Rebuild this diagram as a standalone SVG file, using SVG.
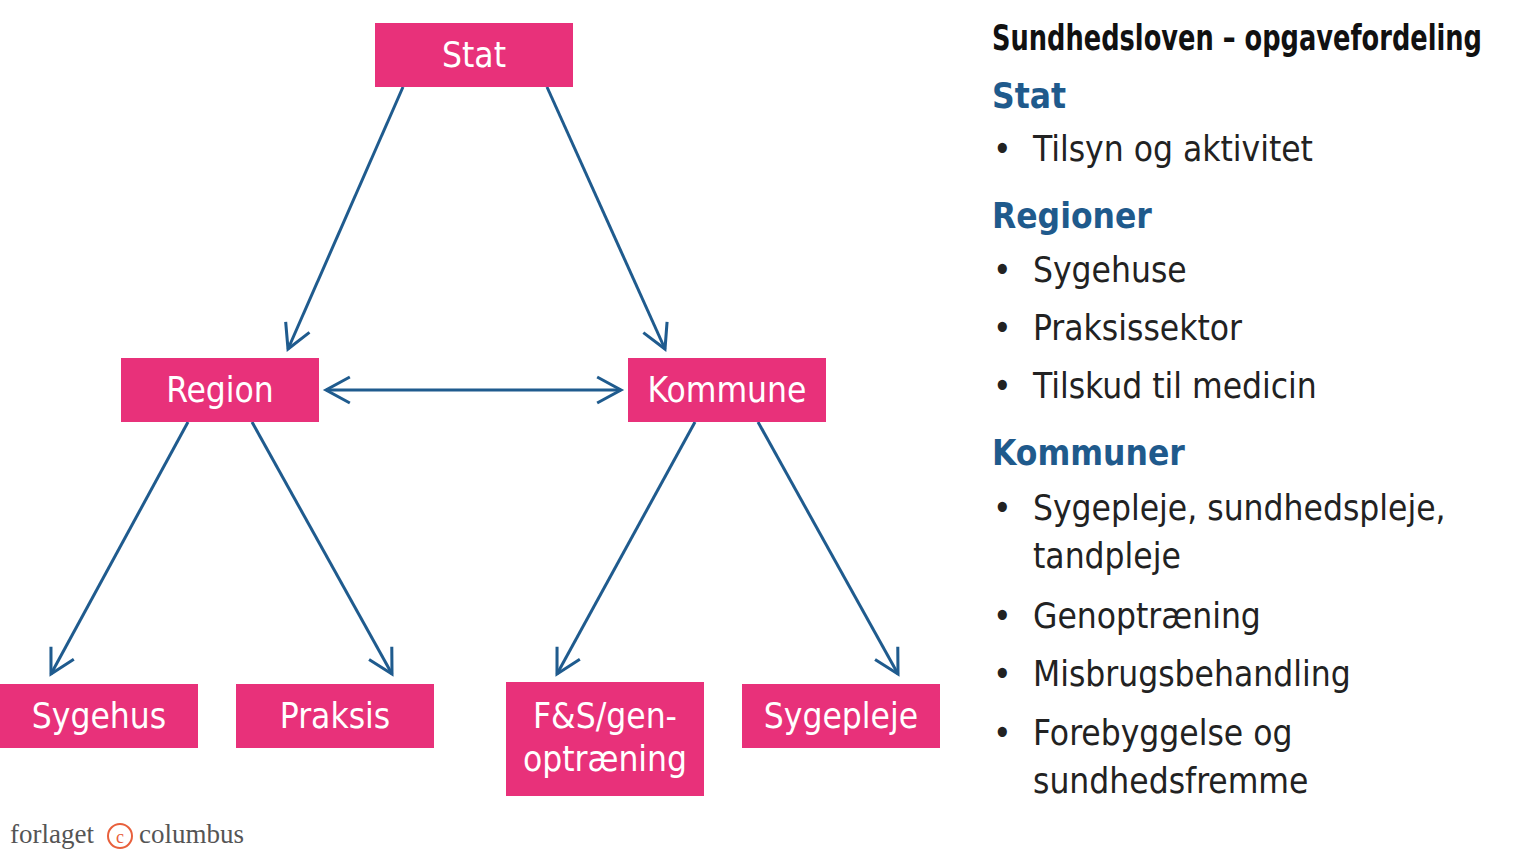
<svg xmlns="http://www.w3.org/2000/svg" width="1516" height="854" viewBox="0 0 1516 854">
<style>
.n{fill:#E8317A}
.nt{fill:#fff;font-family:"DejaVu Sans Condensed","DejaVu Sans",sans-serif;font-stretch:condensed;font-size:35px;text-anchor:middle}
.c line{stroke:#1F5B8E;stroke-width:3;marker-end:url(#a)}
.t{font-family:"DejaVu Sans Condensed","DejaVu Sans",sans-serif;font-stretch:condensed;font-size:35px;fill:#222}
.h{font-weight:bold;fill:#1F5A8C}
</style>
<defs><marker id="a" viewBox="0 0 12 12" refX="11" refY="6" markerWidth="26" markerHeight="26" markerUnits="userSpaceOnUse" orient="auto-start-reverse" style="overflow:visible"><path d="M0,0 L11,6 L0,12" fill="none" stroke="#1F5B8E" stroke-width="1.4"/></marker></defs>
<rect width="1516" height="854" fill="#fff"/>
<g class="c">
<line x1="403" y1="87" x2="288" y2="349"/>
<line x1="547" y1="87" x2="665" y2="349"/>
<line x1="326" y1="390" x2="621" y2="390" marker-start="url(#a)"/>
<line x1="188" y1="422" x2="51" y2="674"/>
<line x1="252" y1="422" x2="392" y2="674"/>
<line x1="695" y1="422" x2="557" y2="674"/>
<line x1="758" y1="422" x2="898" y2="674"/>
</g>
<g id="stat"><rect class="n" x="375" y="23" width="198" height="64"/><text class="nt" x="474" y="67">Stat</text></g>
<g id="region"><rect class="n" x="121" y="358" width="198" height="64"/><text class="nt" x="220" y="402">Region</text></g>
<g id="kommune"><rect class="n" x="628" y="358" width="198" height="64"/><text class="nt" x="727" y="402">Kommune</text></g>
<g id="sygehus"><rect class="n" x="0" y="684" width="198" height="64"/><text class="nt" x="99" y="728">Sygehus</text></g>
<g id="praksis"><rect class="n" x="236" y="684" width="198" height="64"/><text class="nt" x="335" y="728">Praksis</text></g>
<g id="fs"><rect class="n" x="506" y="682" width="198" height="114"/><text class="nt" x="605" y="728">F&amp;S/gen-</text><text class="nt" x="605" y="771">optræning</text></g>
<g id="sygepleje"><rect class="n" x="742" y="684" width="198" height="64"/><text class="nt" x="841" y="728">Sygepleje</text></g>
<g class="t">
<text x="992" y="50" font-weight="bold" fill="#111" textLength="490" lengthAdjust="spacingAndGlyphs">Sundhedsloven – opgavefordeling</text>
<text class="h" x="992" y="108">Stat</text>
<text x="993" y="161">•</text><text x="1033" y="161">Tilsyn og aktivitet</text>
<text class="h" x="992" y="228">Regioner</text>
<text x="993" y="282">•</text><text x="1033" y="282">Sygehuse</text>
<text x="993" y="340">•</text><text x="1033" y="340">Praksissektor</text>
<text x="993" y="398">•</text><text x="1033" y="398">Tilskud til medicin</text>
<text class="h" x="992" y="465">Kommuner</text>
<text x="993" y="520">•</text><text x="1033" y="520">Sygepleje, sundhedspleje,</text>
<text x="1033" y="568">tandpleje</text>
<text x="993" y="628">•</text><text x="1033" y="628">Genoptræning</text>
<text x="993" y="686">•</text><text x="1033" y="686">Misbrugsbehandling</text>
<text x="993" y="745">•</text><text x="1033" y="745">Forebyggelse og</text>
<text x="1033" y="793">sundhedsfremme</text>
</g>
<g id="logo" font-family="Liberation Serif,serif" font-size="27" fill="#555">
<text x="10" y="843">forlaget</text>
<circle cx="120" cy="836" r="12" fill="none" stroke="#E8603C" stroke-width="2"/>
<text x="120" y="843" text-anchor="middle" font-size="18" fill="#E8603C">c</text>
<text x="139" y="843">columbus</text>
</g>
</svg>
